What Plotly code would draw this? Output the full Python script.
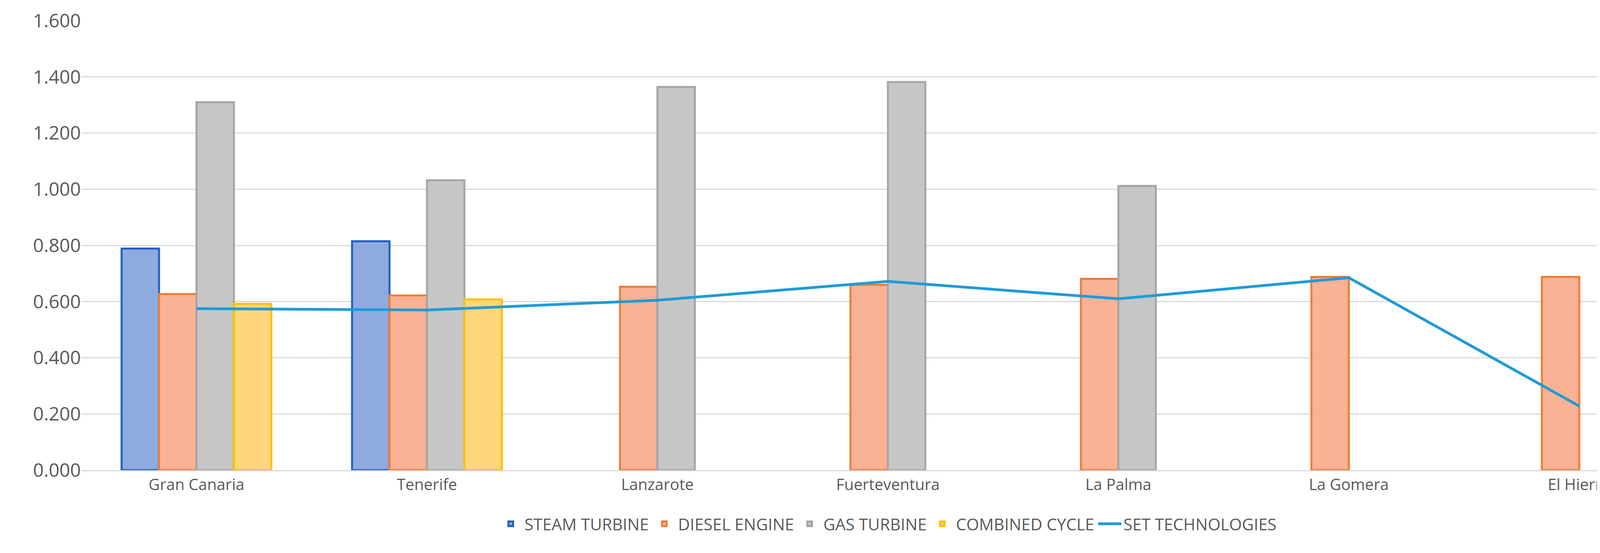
import plotly.graph_objects as go

islands = ["Gran Canaria", "Tenerife", "Lanzarote", "Fuerteventura", "La Palma", "La Gomera", "El Hierro"]
steam = [0.789, 0.815, None, None, None, None, None]
diesel = [0.627, 0.622, 0.653, 0.660, 0.681, 0.688, 0.688]
gas = [1.310, 1.032, 1.364, 1.382, 1.012, None, None]
combined = [0.592, 0.608, None, None, None, None, None]
set_tech = [0.575, 0.570, 0.605, 0.672, 0.610, 0.685, 0.228]

bar_series = [
    ("STEAM TURBINE", steam, "#8eaadf", "#1f5fbf"),
    ("DIESEL ENGINE", diesel, "#f9b293", "#ed7d31"),
    ("GAS TURBINE", gas, "#c6c6c6", "#a5a5a5"),
    ("COMBINED CYCLE", combined, "#ffd67a", "#ffc000"),
]

fig = go.Figure()
for name, vals, fill, edge in bar_series:
    fig.add_trace(go.Bar(
        x=islands, y=vals, name=name,
        marker=dict(color=fill, line=dict(color=edge, width=5)),
    ))
fig.add_trace(go.Scatter(
    x=islands, y=set_tech, name="SET TECHNOLOGIES", mode="lines",
    line=dict(color="#1f9bd7", width=7),
))

fig.update_layout(
    width=4380, height=1395,
    paper_bgcolor="white", plot_bgcolor="white",
    font=dict(family="Open Sans", color="#595959", size=40),
    barmode="group", bargap=0.35, bargroupgap=0,
    margin=dict(l=200, r=50, t=45, b=200),
    legend=dict(orientation="h", x=0.5, xanchor="center", y=-0.09, yanchor="top",
                font=dict(size=42), traceorder="normal", itemwidth=60),
    xaxis=dict(showgrid=False, showline=True, linecolor="#d9d9d9", linewidth=3,
               tickfont=dict(size=40), ticks=""),
    yaxis=dict(range=[0, 1.6], dtick=0.2, tickformat=".3f", showgrid=True,
               gridcolor="#d9d9d9", gridwidth=3, zeroline=False,
               tickfont=dict(size=48)),
)
fig.write_html("out.html")
